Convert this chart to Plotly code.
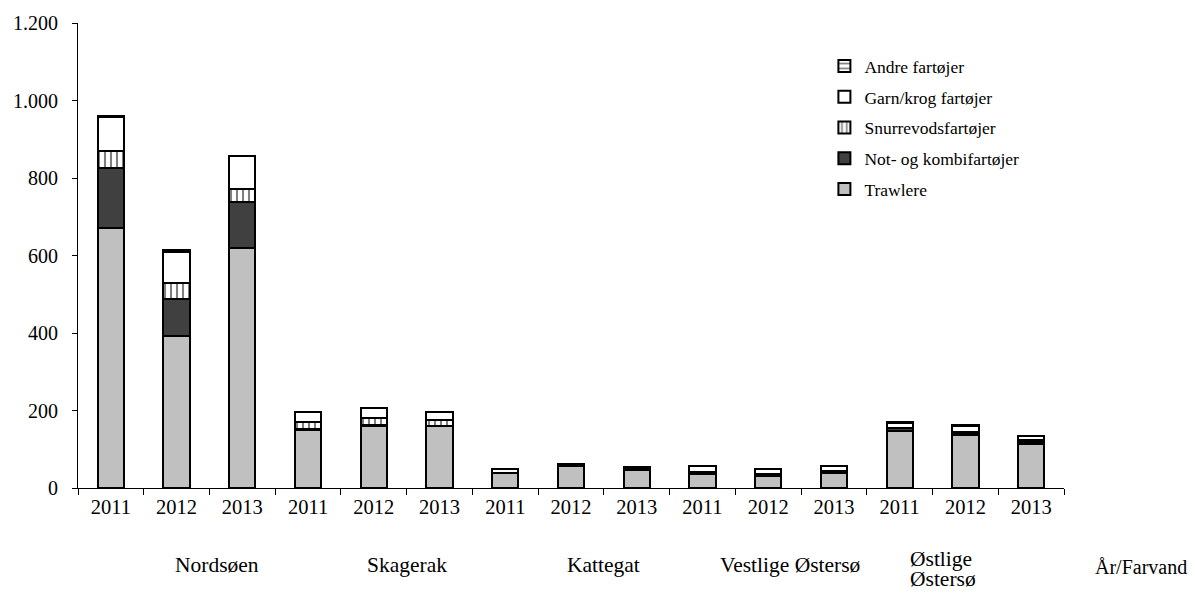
import plotly.graph_objects as go

regions = ["Nordsøen", "Skagerak", "Kattegat", "Vestlige Østersø", "Østlige Østersø"]
years = ["2011", "2012", "2013"]
categories = [f"{r} {y}" for r in regions for y in years]
tick_labels = years * len(regions)

trawlere = [672, 392, 620, 150, 160, 159, 38, 57, 46, 36, 30, 38, 148, 137, 114]
not_komb = [153, 95, 119, 3, 2, 2, 2, 3, 5, 5, 6, 5, 6, 3, 6]
snurre = [45, 43, 33, 17, 19, 14, 0, 0, 0, 0, 0, 0, 0, 5, 4]
garn = [88, 80, 85, 25, 25, 20, 10, 2, 3, 15, 14, 15, 14, 15, 10]
andre = [2, 3, 1, 0, 0, 0, 0, 1, 0, 0, 0, 0, 2, 2, 1]

series = [
    ("Trawlere", trawlere, "#C0C0C0", "", "#000000"),
    ("Not- og kombifartøjer", not_komb, "#404040", "", "#000000"),
    ("Snurrevodsfartøjer", snurre, "#FFFFFF", "|", "#000000"),
    ("Garn/krog fartøjer", garn, "#FFFFFF", "", "#000000"),
    ("Andre fartøjer", andre, "#FFFFFF", "-", "#000000"),
]

font = "Liberation Serif"

fig = go.Figure()
for i, (name, vals, color, shape, fg) in enumerate(series):
    fig.add_trace(go.Bar(
        x=categories, y=vals, name=name, legendgroup=name, legendrank=1000 - i,
        marker=dict(color=color, line=dict(color="#000000", width=2),
                    pattern=dict(shape=shape, fgcolor=fg, bgcolor=color, size=6, solidity=0.35)),
    ))

fig.update_layout(
    barmode="stack",
    bargap=0.6,
    width=1180, height=588,
    margin=dict(l=70, r=124, t=15, b=108),
    paper_bgcolor="white", plot_bgcolor="white",
    separators=",.",
    font=dict(family=font, size=20, color="black"),
    showlegend=True,
    legend=dict(traceorder="grouped", x=0.757, y=0.946, xanchor="left", yanchor="top",
                font=dict(family=font, size=17.5), bgcolor="rgba(0,0,0,0)",
                itemwidth=30, tracegroupgap=5, itemsizing="constant"),
)

fig.update_xaxes(
    type="category", tickmode="array", tickvals=categories, ticktext=tick_labels,
    showline=True, linecolor="black", linewidth=1, automargin=False,
    ticks="outside", tickson="boundaries", ticklen=6, tickcolor="black",
    showgrid=False, tickfont=dict(family=font, size=20.5),
)
fig.update_yaxes(
    range=[0, 1200], dtick=200, tickformat=",d", automargin=False,
    showline=True, linecolor="black", linewidth=1,
    ticks="outside", ticklen=5, tickcolor="black", ticklabelstandoff=10,
    showgrid=False, zeroline=False, tickfont=dict(family=font, size=20),
)

group_pos = [1.62, 4.5, 7.49, 10.33]
for r, xp in zip(regions[:4], group_pos):
    fig.add_annotation(x=xp, y=-0.166, xref="x", yref="paper", text=r, showarrow=False,
                       font=dict(family=font, size=21.5), xanchor="center", yanchor="middle")
for line, yp in zip(regions[4].split(" "), [-0.152, -0.195]):
    fig.add_annotation(x=12.13, y=yp, xref="x", yref="paper", text=line,
                       showarrow=False, font=dict(family=font, size=21.5), xanchor="left",
                       yanchor="middle", align="left")
fig.add_annotation(x=1.078, y=-0.17, xref="paper", yref="paper", text="År/Farvand",
                   showarrow=False, font=dict(family=font, size=20), xanchor="center", yanchor="middle")

fig.write_html("out.html")
